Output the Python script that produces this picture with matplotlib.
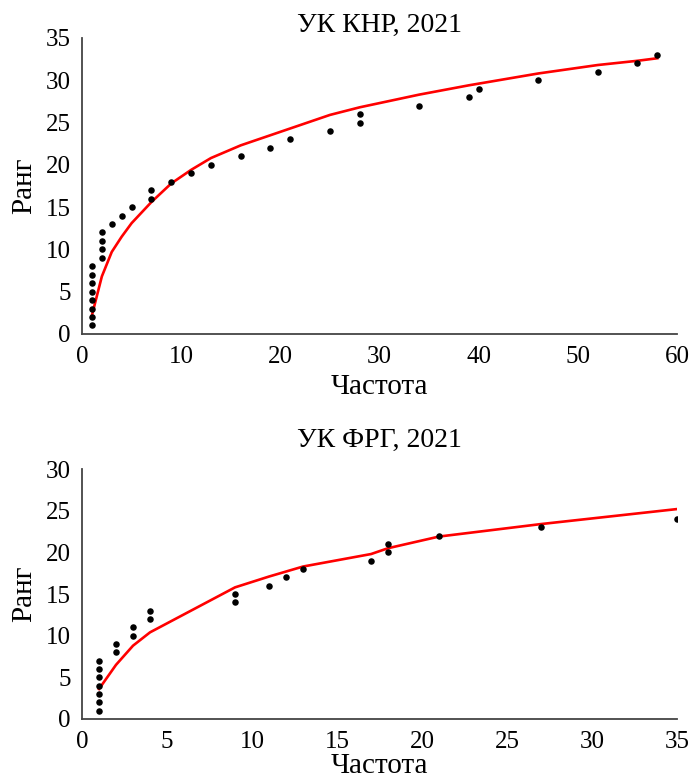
import matplotlib
matplotlib.use('Agg')
import matplotlib.pyplot as plt

# --- data: УК КНР ---
cn_freq = [1, 1, 1, 1, 1, 1, 1, 1, 2, 2, 2, 2, 3, 4, 5, 7, 7, 9, 11, 13, 16,
           19, 21, 25, 28, 28, 34, 39, 40, 46, 52, 56, 58]
cn_rank = list(range(1, 34))
cn_fit_x = [1, 2, 3, 4, 5, 7, 9, 11, 13, 16, 19, 21, 25, 28, 34, 39, 40, 46, 52, 56, 58]
cn_fit_y = [2.2, 6.8, 9.7, 11.5, 13.1, 15.6, 17.8, 19.4, 20.8, 22.3, 23.5, 24.3,
            25.9, 26.8, 28.3, 29.4, 29.6, 30.8, 31.8, 32.3, 32.6]

# --- data: УК ФРГ ---
de_freq = [1, 1, 1, 1, 1, 1, 1, 2, 2, 3, 3, 4, 4, 9, 9, 11, 12, 13, 17, 18, 18,
           21, 27, 35]
de_rank = list(range(1, 25))
de_fit_x = [1, 2, 3, 4, 9, 11, 12, 13, 17, 18, 21, 27, 35]
de_fit_y = [3.6, 6.5, 8.8, 10.4, 15.8, 17.1, 17.7, 18.3, 19.8, 20.5, 21.9, 23.4, 25.2]

plt.rcParams['font.family'] = ['Liberation Serif', 'DejaVu Serif']
plt.rcParams['font.size'] = 18

fig = plt.figure(figsize=(6.92, 7.81), dpi=100)
ax1 = fig.add_axes([0.1185, 0.5724, 0.860, 0.379])
ax2 = fig.add_axes([0.1185, 0.0794, 0.860, 0.320])

panels = [
    (ax1, cn_freq, cn_rank, cn_fit_x, cn_fit_y, 'УК КНР, 2021', 60, 35, 10, 3, 4),
    (ax2, de_freq, de_rank, de_fit_x, de_fit_y, 'УК ФРГ, 2021', 35, 30, 5, 16, 0),
]

for ax, fx, ry, px, py, title, xmax, ymax, xstep, tpad, xlpad in panels:
    ax.plot(px, py, color='#ff0000', lw=1.9, zorder=2)
    ax.scatter(fx, ry, s=22, color='black', zorder=3, linewidths=0)
    ax.set_xlim(0, xmax)
    ax.set_ylim(0, ymax)
    ax.set_xticks(range(0, xmax + 1, xstep))
    ax.set_yticks(range(0, ymax + 1, 5))
    ax.tick_params(axis='x', length=0, pad=9)
    ax.tick_params(axis='y', length=0, pad=8)
    for s in ['top', 'right']:
        ax.spines[s].set_visible(False)
    for s in ['left', 'bottom']:
        ax.spines[s].set_color('#444444')
        ax.spines[s].set_linewidth(1.3)
    ax.set_title(title, fontsize=20, pad=tpad)
    ax.set_xlabel('Частота', fontsize=21, labelpad=xlpad)
    ax.set_ylabel('Ранг', fontsize=21, labelpad=6)

fig.savefig('out.png', dpi=100)
